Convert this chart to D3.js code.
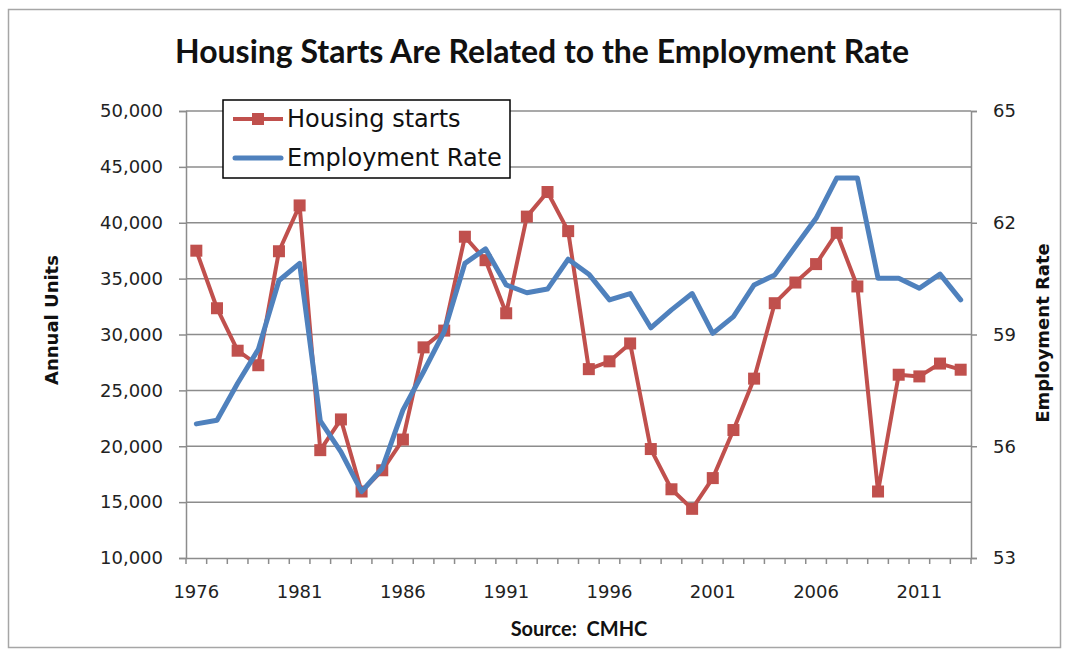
<!DOCTYPE html>
<html><head><meta charset="utf-8">
<script src="https://cdn.jsdelivr.net/npm/d3@7"></script>
<style>body{margin:0;background:#fff}svg{display:block}</style>
</head><body>
<svg id="c" width="1065" height="654"></svg>
<script>
const years = d3.range(1976, 2014);
const housingStarts = [37500,32350,28550,27250,37450,41550,19650,22400,15950,17850,20600,28850,30350,38750,36650,31900,40550,42750,39250,26900,27600,29200,19750,16150,14400,17150,21450,26050,32800,34650,36300,39100,34300,15950,26400,26250,27400,26850];
const employmentRate = [56.60,56.70,57.69,58.60,60.45,60.91,56.68,55.85,54.78,55.41,56.97,58.00,59.08,60.91,61.30,60.33,60.12,60.22,61.02,60.62,59.93,60.10,59.18,59.66,60.10,59.03,59.48,60.33,60.60,61.36,62.12,63.20,63.20,60.51,60.51,60.24,60.62,59.93];
const leftTicks = [10000,15000,20000,25000,30000,35000,40000,45000,50000];
const rightTicks = [53,56,59,62,65];
const yearLabels = [1976,1981,1986,1991,1996,2001,2006,2011];

const svg = d3.select("#c");
const L = 186, R = 971, T = 111, B = 558;
const RED = "#C0504D", BLUE = "#4F81BD", GRID = "#8c8c8c";

svg.append("rect").attr("x",8.5).attr("y",9.5).attr("width",1052).attr("height",638)
  .attr("fill","#fff").attr("stroke","#a6a6a6").attr("stroke-width",1.5);

const x = d3.scaleBand().domain(years).range([L,R]);
const yL = d3.scaleLinear().domain([10000,50000]).range([B,T]);
const yR = d3.scaleLinear().domain([53,65]).range([B,T]);
const cx = d => x(d) + x.bandwidth()/2;

// gridlines
svg.append("g").selectAll("line").data(leftTicks.slice(1)).join("line")
  .attr("x1",L).attr("x2",R).attr("y1",d=>yL(d)).attr("y2",d=>yL(d))
  .attr("stroke",GRID).attr("stroke-width",1.5);

// left axis
const gL = svg.append("g").attr("transform",`translate(${L},0)`)
  .call(d3.axisLeft(yL).tickValues(leftTicks).tickFormat(d3.format(",")).tickSize(7).tickPadding(16));
// right axis
const gR = svg.append("g").attr("transform",`translate(${R},0)`)
  .call(d3.axisRight(yR).tickValues(rightTicks).tickSize(6).tickPadding(16));
// bottom axis
const gB = svg.append("g").attr("transform",`translate(0,${B})`)
  .call(d3.axisBottom(x).tickValues([]).tickSizeOuter(0));
gB.selectAll(".tick").remove();
gB.append("g").selectAll("line").data(d3.range(years.length+1)).join("line")
  .attr("x1",i=>L+i*x.step()).attr("x2",i=>L+i*x.step()).attr("y1",0).attr("y2",6)
  .attr("stroke",GRID).attr("stroke-width",1.5);
gB.append("g").selectAll("text").data(yearLabels).join("text")
  .attr("x",d=>cx(d)).attr("y",40).attr("text-anchor","middle")
  .attr("fill","#222").style("font-family","DejaVu Sans").style("font-size","18px").text(d=>d);

[gL,gR,gB].forEach(g=>{
  g.selectAll(".domain").attr("stroke",GRID).attr("stroke-width",1.5);
  g.selectAll(".tick line").attr("stroke",GRID).attr("stroke-width",1.5);
  g.selectAll(".tick text").attr("fill","#222").style("font-family","DejaVu Sans").style("font-size","18px");
});
gR.selectAll(".tick text").attr("text-anchor","start");

// housing line
const lineH = d3.line().x((d,i)=>cx(years[i])).y(d=>yL(d));
svg.append("path").datum(housingStarts).attr("d",lineH)
  .attr("fill","none").attr("stroke",RED).attr("stroke-width",4).attr("stroke-linejoin","round");
svg.append("g").selectAll("rect").data(housingStarts).join("rect")
  .attr("x",(d,i)=>cx(years[i])-6).attr("y",d=>yL(d)-6).attr("width",12).attr("height",12)
  .attr("fill",RED);

// employment line
const lineE = d3.line().x((d,i)=>cx(years[i])).y(d=>yR(d));
svg.append("path").datum(employmentRate).attr("d",lineE)
  .attr("fill","none").attr("stroke",BLUE).attr("stroke-width",5).attr("stroke-linejoin","round").attr("stroke-linecap","round");

// title
svg.append("text").attr("x",542).attr("y",63).attr("text-anchor","middle")
  .style("font-family","Lato").style("font-weight","bold").style("font-size","32px").attr("fill","#111")
  .text("Housing Starts Are Related to the Employment Rate");

// axis titles
svg.append("text").attr("transform","translate(58,320) rotate(-90)").attr("text-anchor","middle")
  .style("font-family","DejaVu Sans").style("font-weight","bold").style("font-size","18px").attr("fill","#111")
  .text("Annual Units");
svg.append("text").attr("transform","translate(1049,333) rotate(-90)").attr("text-anchor","middle")
  .style("font-family","DejaVu Sans").style("font-weight","bold").style("font-size","18px").attr("fill","#111")
  .text("Employment Rate");
svg.append("text").attr("x",579).attr("y",636).attr("text-anchor","middle").style("white-space","pre")
  .style("font-family","Lato").style("font-weight","bold").style("font-size","20px").attr("fill","#111")
  .text("Source:  CMHC");

// legend
const lg = svg.append("g");
lg.append("rect").attr("x",223).attr("y",100).attr("width",287).attr("height",78)
  .attr("fill","#fff").attr("stroke","#000").attr("stroke-width",1.5);
lg.append("line").attr("x1",233).attr("x2",283).attr("y1",119).attr("y2",119).attr("stroke",RED).attr("stroke-width",4);
lg.append("rect").attr("x",252).attr("y",113).attr("width",12).attr("height",12).attr("fill",RED);
lg.append("line").attr("x1",235).attr("x2",281).attr("y1",158).attr("y2",158).attr("stroke",BLUE).attr("stroke-width",5).attr("stroke-linecap","round");
lg.append("text").attr("x",287).attr("y",127).style("font-family","DejaVu Sans").style("font-size","24px").attr("fill","#111").text("Housing starts");
lg.append("text").attr("x",287).attr("y",166).style("font-family","DejaVu Sans").style("font-size","24px").attr("fill","#111").text("Employment Rate");
</script>
</body></html>
